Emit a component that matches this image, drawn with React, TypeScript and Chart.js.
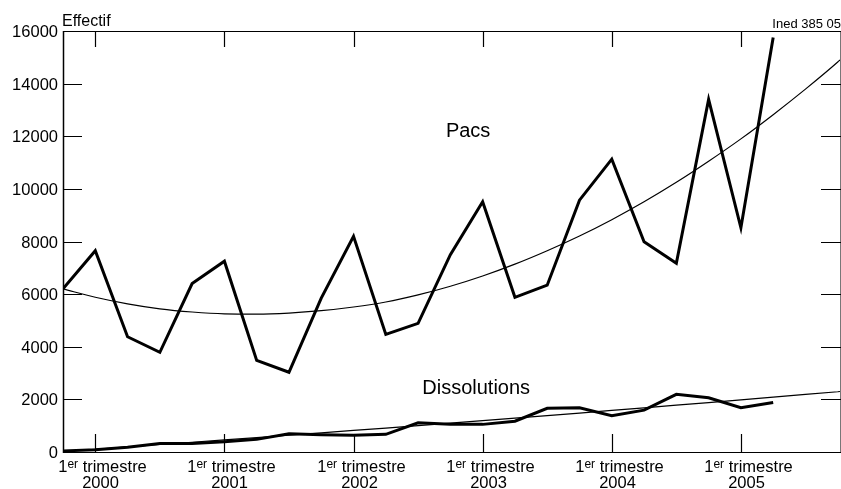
import React, { useEffect, useRef } from "react";
import { Chart, registerables } from "chart.js";

Chart.register(...registerables);

// Quarter index: 0 = 4th quarter 1999, 1 = 1st quarter 2000, ... 22 = 2nd quarter 2005
const quarters = [0, 1, 2, 3, 4, 5, 6, 7, 8, 9, 10, 11, 12, 13, 14, 15, 16, 17, 18, 19, 20, 21, 22];
const pacs = [6200, 7650, 4380, 3790, 6400, 7250, 3480, 3030, 5850, 8200, 4470, 4890, 7500, 9510, 5880, 6340, 9570, 11130, 7990, 7170, 13400, 8520, 15750];
const dissolutions = [40, 90, 180, 320, 320, 390, 480, 690, 660, 640, 670, 1110, 1050, 1050, 1170, 1660, 1680, 1380, 1590, 2190, 2060, 1680, 1880];

const trendX = [0, 1, 2, 3, 4, 5, 6, 7, 8, 9, 10, 11, 12, 13, 14, 15, 16, 17, 18, 19, 20, 21, 22, 23, 24, 24.07];
const pacsTrend = [6200, 5880, 5630, 5440, 5320, 5250, 5240, 5280, 5370, 5510, 5700, 5970, 6300, 6690, 7140, 7650, 8210, 8830, 9510, 10250, 11050, 11900, 12820, 13790, 14820, 14900];
const dissolutionsTrend = [20, 105, 195, 285, 370, 460, 550, 640, 730, 820, 910, 1000, 1095, 1190, 1285, 1380, 1480, 1580, 1680, 1780, 1880, 1980, 2085, 2190, 2290, 2300];

const yTicks = [0, 2000, 4000, 6000, 8000, 10000, 12000, 14000, 16000];
const yearTicks = [1, 5, 9, 13, 17, 21];
const yearLabels = ["2000", "2001", "2002", "2003", "2004", "2005"];

const xMax = 24.07;
const yMax = 16000;
const FONT = '"Liberation Sans", Arial, Helvetica, sans-serif';

const framePlugin = {
  id: "inedFrame",
  afterDraw(chart: any) {
    const { ctx, chartArea: a } = chart;
    const xs = chart.scales.x;
    const ys = chart.scales.y;
    const L = Math.round(a.left);
    const R = Math.round(a.right);
    const T = Math.round(a.top);
    const B = Math.round(a.bottom);
    ctx.save();
    ctx.strokeStyle = "#000";
    ctx.fillStyle = "#000";

    // frame
    ctx.lineWidth = 1;
    ctx.beginPath();
    ctx.moveTo(L, T + 0.5);
    ctx.lineTo(R + 1, T + 0.5);
    ctx.moveTo(L, B + 0.5);
    ctx.lineTo(R + 1, B + 0.5);
    ctx.stroke();
    ctx.strokeStyle = "#777";
    ctx.beginPath();
    ctx.moveTo(R + 0.5, T);
    ctx.lineTo(R + 0.5, B + 1);
    ctx.stroke();
    ctx.strokeStyle = "#000";
    ctx.lineWidth = 1.5;
    ctx.beginPath();
    ctx.moveTo(L + 0.5, T);
    ctx.lineTo(L + 0.5, B + 1);
    ctx.stroke();

    // y ticks (inside, both sides) and labels
    ctx.lineWidth = 1;
    ctx.font = `16.5px ${FONT}`;
    ctx.textAlign = "right";
    ctx.textBaseline = "middle";
    yTicks.forEach((v) => {
      const py = Math.round(ys.getPixelForValue(v)) + 0.5;
      ctx.beginPath();
      ctx.moveTo(L, py);
      ctx.lineTo(L + 19, py);
      ctx.moveTo(R - 19, py);
      ctx.lineTo(R + 1, py);
      ctx.stroke();
      ctx.fillText(String(v), L - 5, py + 0.5);
    });

    // x ticks (inside, bottom and top) and labels
    yearTicks.forEach((t, i) => {
      const px = Math.round(xs.getPixelForValue(t)) + 0.5;
      ctx.lineWidth = 1.2;
      ctx.beginPath();
      ctx.moveTo(px, B);
      ctx.lineTo(px, B - 18);
      ctx.moveTo(px, T);
      ctx.lineTo(px, T + 16);
      ctx.stroke();

      // "1er trimestre" with superscript
      ctx.textBaseline = "alphabetic";
      ctx.textAlign = "left";
      const big = `16.5px ${FONT}`;
      const small = `12px ${FONT}`;
      ctx.font = big;
      const w1 = ctx.measureText("1").width;
      const w3 = ctx.measureText(" trimestre").width;
      ctx.font = small;
      const w2 = ctx.measureText("er").width;
      const total = w1 + w2 + w3;
      let sx = px + 7 - total / 2;
      ctx.font = big;
      ctx.fillText("1", sx, 472);
      sx += w1;
      ctx.font = small;
      ctx.fillText("er", sx, 468);
      sx += w2;
      ctx.font = big;
      ctx.fillText(" trimestre", sx, 472);

      ctx.textAlign = "center";
      ctx.fillText(yearLabels[i], px + 5, 488);
    });

    // titles and annotations
    ctx.textAlign = "left";
    ctx.textBaseline = "alphabetic";
    ctx.font = `16px ${FONT}`;
    ctx.fillText("Effectif", L - 1, 26);
    ctx.font = `13px ${FONT}`;
    ctx.textAlign = "right";
    ctx.fillText("Ined 385 05", chart.width, 28);

    ctx.font = `20px ${FONT}`;
    ctx.textAlign = "center";
    ctx.fillText("Pacs", xs.getPixelForValue(12.55), ys.getPixelForValue(11980));
    ctx.fillText("Dissolutions", xs.getPixelForValue(12.8), ys.getPixelForValue(2200));
    ctx.restore();
  },
};

export default function App() {
  const canvasRef = useRef<HTMLCanvasElement | null>(null);

  useEffect(() => {
    const canvas = canvasRef.current;
    if (!canvas) return;
    const pts = (xsArr: number[], ysArr: number[]) => xsArr.map((x, i) => ({ x, y: ysArr[i] }));
    const chart = new Chart(canvas, {
      type: "line",
      data: {
        datasets: [
          {
            label: "Pacs",
            data: pts(quarters, pacs),
            borderColor: "#000",
            borderWidth: 3,
            pointRadius: 0,
            tension: 0,
            borderJoinStyle: "miter",
            fill: false,
          },
          {
            label: "Pacs (tendance)",
            data: pts(trendX, pacsTrend),
            borderColor: "#000",
            borderWidth: 1.2,
            pointRadius: 0,
            tension: 0.4,
            cubicInterpolationMode: "monotone",
            fill: false,
          },
          {
            label: "Dissolutions",
            data: pts(quarters, dissolutions),
            borderColor: "#000",
            borderWidth: 3,
            pointRadius: 0,
            tension: 0,
            borderJoinStyle: "miter",
            fill: false,
          },
          {
            label: "Dissolutions (tendance)",
            data: pts(trendX, dissolutionsTrend),
            borderColor: "#000",
            borderWidth: 1.2,
            pointRadius: 0,
            tension: 0,
            fill: false,
          },
        ],
      } as any,
      options: {
        animation: false,
        responsive: false,
        maintainAspectRatio: false,
        events: [],
        layout: { padding: { left: 63, right: 1, top: 31, bottom: 37 } },
        plugins: {
          legend: { display: false },
          tooltip: { enabled: false },
          title: { display: false },
        },
        scales: {
          x: { type: "linear", min: 0, max: xMax, display: false },
          y: { type: "linear", min: 0, max: yMax, display: false },
        },
      } as any,
      plugins: [framePlugin],
    });
    return () => chart.destroy();
  }, []);

  return (
    <div style={{ position: "absolute", left: 0, top: 0, width: 841, height: 489, background: "#fff" }}>
      <canvas ref={canvasRef} width={841} height={489} style={{ width: 841, height: 489, display: "block" }} />
    </div>
  );
}
